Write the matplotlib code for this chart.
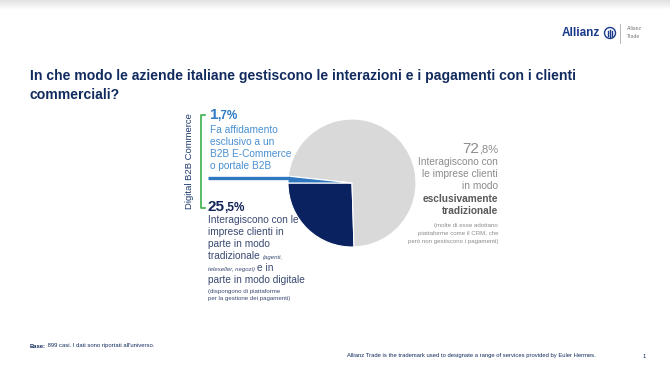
import numpy as np
import matplotlib
matplotlib.use("Agg")
import matplotlib.pyplot as plt
from matplotlib.patches import Circle

plt.rcParams['font.family'] = ['Liberation Sans', 'DejaVu Sans']

# data
shares = [25.5, 72.8, 1.7]          # tradizionale+digitale, solo tradizionale, solo B2B e-commerce
wedge_colors = ['#0b2260', '#d9d9d9', '#2f78c0']

W, H = 670, 377
NAVY = '#122b5e'


def px(x, y):
    return x / W, 1 - y / H


fig = plt.figure(figsize=(W / 100, H / 100), dpi=100)
renderer = fig.canvas.get_renderer()


def after(t, s, dx=0, **kw):
    # put a second text right after t, on the same baseline
    ext = t.get_window_extent(renderer)
    x, y = t.get_position()
    return fig.text((ext.x1 + dx) / W, y, s, va='baseline', **kw)


def before(t, s, dx=0, **kw):
    ext = t.get_window_extent(renderer)
    x, y = t.get_position()
    return fig.text((ext.x0 + dx) / W, y, s, va='baseline', ha='right', **kw)


# top shadow
shadow = fig.add_axes([0, 1 - 10 / H, 1, 10 / H])
grad = np.linspace(0.88, 1.0, 50).reshape(-1, 1)
shadow.imshow(grad, cmap='gray', vmin=0, vmax=1, aspect='auto',
              extent=[0, 1, 0, 1])
shadow.axis('off')

# pie
cx, cy, r = 352, 183, 64
pax = fig.add_axes([(cx - r) / W, (H - cy - r) / H, 2 * r / W, 2 * r / H])
wedges, _ = pax.pie(shares, colors=wedge_colors, startangle=180,
                    counterclock=True,
                    wedgeprops=dict(edgecolor='white', linewidth=0.8))
pax.set_xlim(-1, 1)
pax.set_ylim(-1, 1)
pax.set_aspect('auto')
pax.axis('off')

# overlay axes in pixel coordinates for lines
ov = fig.add_axes([0, 0, 1, 1])
ov.set_xlim(0, W)
ov.set_ylim(H, 0)
ov.axis('off')
ov.set_zorder(2)
pax.set_zorder(1)

# leader line to the small wedge
w = wedges[2]
mid = np.deg2rad((w.theta1 + w.theta2) / 2)
ex = cx + r * np.cos(mid)
ov.plot([208, ex + 2], [178, 178], color='#2f78c0', lw=2.4,
        solid_capstyle='butt')

# green bracket
ov.plot([205, 201, 201, 205], [115, 115, 208, 208], color='#3cb04a', lw=1.2)
fig.text(*px(189, 161), 'Digital B2B Commerce', rotation=90, fontsize=6.8,
         color='#1f3a6e', ha='center', va='center')

# title
fig.text(*px(30, 76), 'In che modo le aziende italiane gestiscono le interazioni e i pagamenti con i clienti',
         fontsize=10.1, fontweight='bold', color=NAVY, va='center')
fig.text(*px(30, 95), 'commerciali?', fontsize=10.1, fontweight='bold',
         color=NAVY, va='center')

# 1,7%
t = fig.text(*px(210, 119), '1', fontsize=11, fontweight='bold',
             color='#2e7bc4', va='baseline')
after(t, ',7%', dx=-1, fontsize=8.5, fontweight='bold', color='#2e7bc4')
blue_lines = ['Fa affidamento', 'esclusivo a un', 'B2B E-Commerce', 'o portale B2B']
for i, s in enumerate(blue_lines):
    fig.text(*px(210, 130 + 12 * i), s, fontsize=7.3, color='#4a90d0',
             va='center')

# 25,5%
t = fig.text(*px(208, 211), '25', fontsize=11, fontweight='bold',
             color='#14265a', va='baseline')
after(t, ',5%', dx=-1, fontsize=8.5, fontweight='bold', color='#14265a')
body = '#3b4a72'
mid_lines = ['Interagiscono con le', 'imprese clienti in', 'parte in modo']
for i, s in enumerate(mid_lines):
    fig.text(*px(208, 220 + 12 * i), s, fontsize=7.3, color=body, va='center')
t = fig.text(*px(208, 259), 'tradizionale ', fontsize=7.3, color=body,
             va='baseline')
after(t, '(agenti,', fontsize=4.3, style='italic', color=body)
t = fig.text(*px(208, 271), 'teleseller, negozi) ', fontsize=4.3,
             style='italic', color=body, va='baseline')
after(t, 'e in', fontsize=7.3, color=body)
fig.text(*px(208, 280), 'parte in modo digitale', fontsize=7.3, color=body,
         va='center')
fig.text(*px(208, 291.5), '(dispongono di piattaforme', fontsize=4.4,
         color=body, va='center')
fig.text(*px(208, 298.5), 'per la gestione dei pagamenti)', fontsize=4.4,
         color=body, va='center')

# 72,8%
gray = '#8c8c8c'
t = fig.text(*px(498, 153), ',8%', fontsize=8, color=gray, va='baseline',
             ha='right')
before(t, '72', fontsize=11, color=gray)
right_lines = ['Interagiscono con', 'le imprese clienti', 'in modo']
for i, s in enumerate(right_lines):
    fig.text(*px(498, 162 + 12 * i), s, fontsize=7.3, color=gray,
             va='center', ha='right')
for i, s in enumerate(['esclusivamente', 'tradizionale']):
    fig.text(*px(498, 199 + 12.5 * i), s, fontsize=7.3, color='#595959',
             fontweight='bold', va='center', ha='right')
for i, s in enumerate(['(molte di esse adottano',
                       'piattaforme come il CRM, che',
                       'però non gestiscono i pagamenti)']):
    fig.text(*px(498, 225 + 8.5 * i), s, fontsize=4.4, color=gray,
             va='center', ha='right')

# logo
fig.text(*px(600, 33), 'Allianz', fontsize=8.5, fontweight='bold',
         color='#1a3a8a', va='center', ha='right')
ov.add_patch(Circle((610, 33), 5.5, fill=False, ec='#1a3a8a', lw=1.0))
for dx, h in zip([-2.2, 0, 2.2], [2.5, 3.5, 2.5]):
    ov.plot([610 + dx, 610 + dx], [33 - h, 33 + h], color='#1a3a8a', lw=1.0)
ov.plot([620, 620], [24, 43], color='#aaaaaa', lw=0.6)
fig.text(*px(627, 29), 'Allianz', fontsize=3.6, color='#777777', va='center')
fig.text(*px(627, 37), 'Trade', fontsize=3.6, color='#777777', va='center')

# footer
t = fig.text(*px(30, 347.5), 'Base:', fontsize=4.2, fontweight='bold',
             color=NAVY, va='baseline')
after(t, ' 899 casi. I dati sono riportati all\'universo.', fontsize=4.2,
      color=NAVY)
fig.text(*px(347, 356), 'Allianz Trade is the trademark used to designate a range of services provided by Euler Hermes.',
         fontsize=4.2, color=NAVY, va='center')
fig.text(*px(643, 356), '1', fontsize=4.2, color=NAVY, va='center')

fig.savefig('out.png', dpi=100)
